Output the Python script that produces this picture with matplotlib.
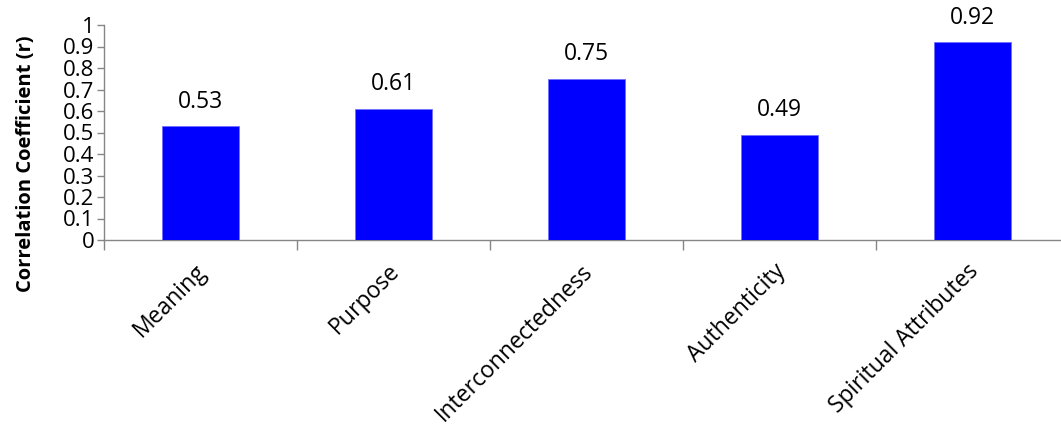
import matplotlib
matplotlib.use("Agg")
import matplotlib.pyplot as plt
import matplotlib.transforms as mtransforms
import numpy as np

categories = ["Meaning", "Purpose", "Interconnectedness", "Authenticity", "Spiritual Attributes"]
values = [0.53, 0.61, 0.75, 0.49, 0.92]
value_labels = ["0.53", "0.61", "0.75", "0.49", "0.92"]
yticks = [0, 0.1, 0.2, 0.3, 0.4, 0.5, 0.6, 0.7, 0.8, 0.9, 1]
ytick_labels = ["0", "0.1", "0.2", "0.3", "0.4", "0.5", "0.6", "0.7", "0.8", "0.9", "1"]

plt.rcParams['font.family'] = ['Open Sans', 'DejaVu Sans']

fig = plt.figure(figsize=(10.61, 4.25), dpi=100)
ax = fig.add_axes([104/1061, 1-240/425, 965/1061, 215/425])

x = np.arange(len(categories))
ax.bar(x, values, width=0.4, color="#0000FF", edgecolor="#7070FF", linewidth=0.6, zorder=3)
for xi, v, lab in zip(x, values, value_labels):
    ax.annotate(lab, (xi, v), xytext=(0, 9), textcoords="offset points",
                ha="center", va="bottom", fontsize=16.5, color="black")

ax.set_xlim(-0.5, len(categories) - 0.5)
ax.set_ylim(0, 1)
ax.set_yticks(yticks)
ax.set_yticklabels(ytick_labels, fontsize=16)
ax.set_xticks(x)
ax.set_xticks(np.arange(len(categories) + 1) - 0.5, minor=True)
ax.tick_params(axis="x", which="major", length=0, pad=14)
ax.tick_params(axis="x", which="minor", length=7, color="#868686", width=1)
ax.tick_params(axis="y", length=5, color="#868686", width=1, pad=2)
ax.set_xticklabels(categories, rotation=45, ha="right", va="top", rotation_mode="anchor", fontsize=16.5)
shift = mtransforms.ScaledTranslation(-6/100, 0, fig.dpi_scale_trans)
for lbl in ax.get_xticklabels():
    lbl.set_transform(lbl.get_transform() + shift)

for s in ["top", "right"]:
    ax.spines[s].set_visible(False)
for s in ["left", "bottom"]:
    ax.spines[s].set_color("#868686")
    ax.spines[s].set_linewidth(1)

fig.text(26/1061, 1-164/425, "Correlation Coefficient (r)", rotation=90,
         ha="center", va="center", fontsize=14.5, fontweight="bold")

fig.savefig("out.png", dpi=100)
